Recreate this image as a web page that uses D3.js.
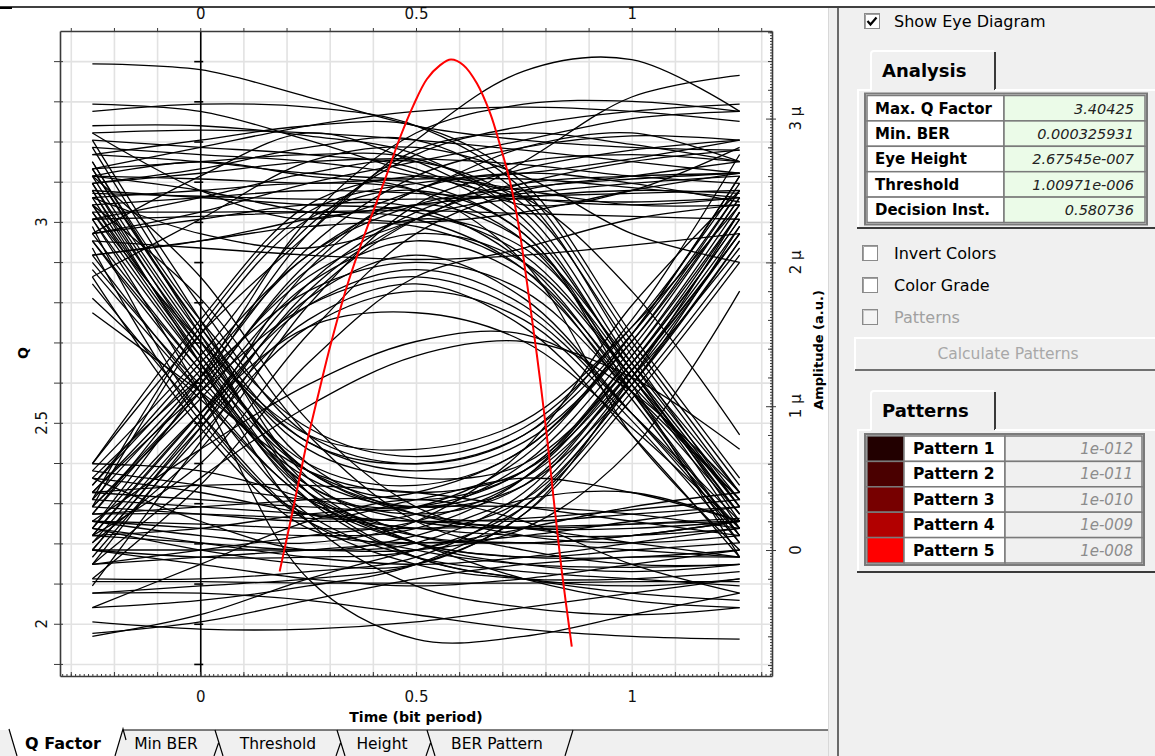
<!DOCTYPE html>
<html>
<head>
<meta charset="utf-8">
<script src="https://cdn.jsdelivr.net/npm/d3@7"></script>
<style>
  body { margin: 0; background: #fff; }
  svg { display: block; font-family: "DejaVu Sans", sans-serif; }
</style>
</head>
<body>
<svg id="chart" width="1155" height="756"></svg>
<script>
// ---- data ----
// red curve: Q factor vs decision instant (bit period)
var qTimes  = [0.184, 0.216, 0.247, 0.278, 0.301, 0.340, 0.378, 0.409, 0.433, 0.463, 0.494, 0.525, 0.556,
               0.581, 0.610, 0.641, 0.672, 0.695, 0.718, 0.738, 0.757, 0.780, 0.803, 0.819, 0.838, 0.861];
var qValues = [2.13, 2.29, 2.45, 2.59, 2.69, 2.84, 2.96, 3.05, 3.12, 3.21, 3.29, 3.355, 3.39,
               3.404, 3.39, 3.345, 3.27, 3.19, 3.10, 2.99, 2.85, 2.67, 2.47, 2.31, 2.13, 1.943];

// eye diagram traces, amplitude in micro a.u., sampled at these instants
var sampleTimes = [-0.25, 0, 0.25, 0.5, 0.75, 1, 1.25];

var trace111 = [
  [3.38, 3.34, 3.15, 2.95, 2.85, 2.80, 2.78],
  [3.10, 3.05, 2.85, 2.62, 2.45, 2.40, 2.45],
  [2.55, 2.62, 2.70, 2.72, 2.68, 2.60, 2.55],
  [2.40, 2.45, 2.50, 2.48, 2.44, 2.42, 2.45],
  [2.30, 2.32, 2.35, 2.36, 2.34, 2.32, 2.30],
  [2.75, 2.70, 2.62, 2.58, 2.62, 2.72, 2.85],
  [2.20, 2.35, 2.55, 2.70, 2.85, 3.00, 3.05],
  [2.60, 2.50, 2.35, 2.28, 2.35, 2.50, 2.62],
  [2.05, 2.15, 2.30, 2.40, 2.48, 2.55, 2.60],
  [2.90, 2.92, 2.90, 2.85, 2.78, 2.70, 2.62],
  [2.48, 2.46, 2.44, 2.44, 2.46, 2.48, 2.50],
  [2.65, 2.80, 2.95, 3.05, 3.08, 3.05, 2.98],
  [2.15, 2.10, 2.05, 2.02, 2.05, 2.12, 2.20],
  [2.20, 2.60, 2.90, 2.70, 2.40, 2.50, 2.80],
  [2.90, 2.50, 2.30, 2.50, 2.80, 2.90, 2.70],
  [2.45, 2.20, 2.10, 2.30, 2.70, 3.15, 3.30],
  [1.90, 2.30, 2.70, 2.80, 2.60, 2.20, 2.00]
];
var trace011 = [
  [0.30, 1.10, 2.00, 2.50, 2.70, 2.75, 2.70],
  [0.10, 0.95, 1.85, 2.35, 2.55, 2.60, 2.62],
  [0.55, 1.35, 2.25, 2.75, 2.95, 3.05, 3.10],
  [-0.10, 0.85, 1.80, 2.30, 2.45, 2.50, 2.48],
  [0.40, 1.20, 2.10, 2.60, 2.80, 2.88, 2.85],
  [0.60, 1.50, 2.20, 2.85, 3.33, 3.41, 3.05],
  [0.00, 0.90, 1.95, 2.50, 2.62, 2.55, 2.42],
  [0.35, 1.55, 2.35, 2.55, 2.58, 2.52, 2.45],
  [-0.25, 0.75, 1.75, 2.30, 2.55, 2.70, 2.78],
  [0.15, 1.15, 2.20, 2.78, 2.90, 2.82, 2.70],
  [0.45, 1.30, 2.05, 2.40, 2.52, 2.58, 2.62],
  [0.05, 0.70, 1.70, 2.40, 2.65, 2.78, 2.85],
  [0.25, 1.20, 2.30, 2.90, 3.10, 3.12, 3.05],
  [0.60, 1.60, 2.40, 2.60, 2.50, 2.40, 2.40],
  [0.10, 0.60, 1.50, 2.20, 2.50, 2.60, 2.70],
  [-0.20, 0.45, 1.30, 1.90, 2.10, 2.30, 2.40]
];
var trace110 = [
  [2.65, 2.70, 2.75, 2.72, 2.35, 1.30, 0.35],
  [2.45, 2.50, 2.55, 2.50, 2.15, 1.20, 0.25],
  [3.05, 3.10, 3.08, 2.95, 2.50, 1.45, 0.45],
  [2.20, 2.30, 2.40, 2.38, 2.00, 1.10, 0.10],
  [2.85, 2.80, 2.75, 2.65, 2.25, 1.25, 0.20],
  [2.55, 2.65, 2.80, 2.85, 2.45, 1.35, 0.30],
  [2.35, 2.35, 2.35, 2.30, 1.95, 1.05, 0.05],
  [2.75, 2.85, 2.95, 2.95, 2.55, 1.50, 0.50],
  [2.05, 2.15, 2.25, 2.25, 1.95, 1.15, 0.35],
  [2.50, 2.45, 2.40, 2.35, 2.05, 1.20, 0.15],
  [2.95, 2.95, 2.88, 2.75, 2.30, 1.25, 0.25],
  [2.30, 2.45, 2.62, 2.70, 2.40, 1.40, 0.40],
  [2.60, 2.58, 2.55, 2.55, 2.20, 1.15, -0.05],
  [2.60, 2.70, 2.60, 2.50, 2.00, 0.80, 0.00],
  [2.80, 2.75, 2.70, 2.60, 2.45, 1.80, 0.80]
];
var trace010 = [
  [0.30, 1.05, 1.85, 2.15, 1.90, 1.10, 0.25],
  [0.10, 0.95, 1.70, 1.95, 1.70, 0.95, 0.15],
  [0.45, 1.25, 2.05, 2.40, 2.15, 1.30, 0.40],
  [-0.05, 0.80, 1.55, 1.80, 1.60, 0.90, 0.05],
  [0.25, 1.10, 1.95, 2.30, 2.10, 1.25, 0.30],
  [0.50, 1.20, 1.80, 2.00, 1.80, 1.10, 0.35],
  [0.00, 0.85, 1.60, 1.85, 1.55, 0.80, -0.05],
  [0.35, 1.15, 1.90, 2.20, 2.00, 1.20, 0.30],
  [0.15, 0.95, 1.55, 1.65, 1.45, 0.85, 0.15],
  [-0.10, 0.50, 1.00, 1.35, 1.45, 1.20, 0.70],
  [0.20, 0.70, 1.15, 1.45, 1.50, 1.10, 0.40],
  [0.40, 1.10, 1.70, 1.90, 1.65, 0.95, 0.20],
  [0.05, 0.90, 1.75, 2.05, 1.75, 0.95, 0.10],
  [0.30, 1.50, 2.30, 2.50, 2.20, 1.10, 0.10]
];
var trace101 = [
  [2.50, 1.45, 0.75, 0.55, 0.75, 1.45, 2.45],
  [2.30, 1.30, 0.55, 0.35, 0.55, 1.35, 2.35],
  [2.70, 1.60, 0.85, 0.65, 0.85, 1.55, 2.55],
  [2.15, 1.20, 0.45, 0.25, 0.45, 1.25, 2.20],
  [2.60, 1.50, 0.70, 0.50, 0.60, 1.30, 2.30],
  [2.40, 1.35, 0.60, 0.45, 0.70, 1.50, 2.60],
  [2.85, 1.70, 0.80, 0.60, 0.80, 1.60, 2.75],
  [2.00, 1.15, 0.50, 0.30, 0.50, 1.20, 2.10],
  [2.55, 1.40, 0.55, 0.30, 0.45, 1.15, 2.15],
  [2.35, 1.45, 0.80, 0.70, 0.90, 1.55, 2.40],
  [2.20, 1.25, 0.40, 0.15, 0.35, 1.15, 2.25],
  [2.65, 1.55, 0.75, 0.60, 0.80, 1.50, 2.50],
  [1.65, 1.10, 0.55, 0.40, 0.55, 1.25, 2.20]
];
var trace100 = [
  [2.45, 1.35, 0.40, 0.05, -0.05, -0.05, 0.00],
  [2.25, 0.95, 0.20, 0.00, -0.10, -0.12, -0.10],
  [2.65, 1.55, 0.60, 0.25, 0.15, 0.15, 0.20],
  [2.05, 1.10, 0.25, -0.05, -0.15, -0.20, -0.25],
  [2.80, 1.60, 0.50, 0.10, 0.05, 0.10, 0.20],
  [2.35, 1.30, 0.35, -0.05, -0.20, -0.25, -0.20],
  [2.55, 1.45, 0.45, 0.05, -0.10, -0.15, -0.10],
  [1.95, 1.10, 0.35, 0.10, 0.05, 0.10, 0.20],
  [2.40, 1.40, 0.55, 0.25, 0.20, 0.25, 0.30],
  [2.70, 1.50, 0.40, -0.05, -0.20, -0.30, -0.35],
  [2.15, 1.25, 0.45, 0.20, 0.15, 0.18, 0.22],
  [2.50, 1.30, 0.20, -0.25, -0.40, -0.45, -0.40],
  [1.85, 0.95, 0.20, -0.10, -0.20, -0.20, -0.15],
  [1.75, 1.05, 0.35, 0.05, -0.05, 0.00, 0.05],
  [2.30, 1.10, -0.20, -0.62, -0.60, -0.45, -0.30],
  [1.90, 0.85, 0.15, 0.05, 0.10, 0.20, 0.30],
  [2.60, 1.90, 0.90, 0.30, 0.10, 0.05, 0.10],
  [2.40, 1.75, 0.80, 0.20, 0.00, -0.10, -0.10],
  [2.10, 0.90, 0.25, 0.35, 0.50, 0.40, 0.20]
];
var trace001 = [
  [0.10, 0.05, 0.00, 0.05, 0.40, 1.25, 2.25],
  [0.30, 0.25, 0.20, 0.25, 0.60, 1.40, 2.45],
  [-0.20, -0.20, -0.15, -0.05, 0.35, 1.20, 2.20],
  [0.40, 0.35, 0.30, 0.30, 0.65, 1.50, 2.60],
  [0.00, -0.05, -0.05, 0.00, 0.30, 1.10, 2.05],
  [-0.40, -0.35, -0.25, -0.10, 0.30, 1.15, 2.15],
  [0.20, 0.15, 0.10, 0.15, 0.50, 1.35, 2.40],
  [0.55, 0.45, 0.35, 0.30, 0.55, 1.30, 2.30],
  [-0.10, 0.00, 0.10, 0.20, 0.50, 1.30, 2.35],
  [0.15, 0.00, -0.10, -0.10, 0.25, 1.05, 2.00],
  [-0.30, -0.25, -0.20, -0.10, 0.25, 1.20, 2.35],
  [0.25, 0.30, 0.35, 0.40, 0.70, 1.45, 2.50],
  [0.20, 0.10, 0.05, 0.20, 0.70, 1.70, 2.50],
  [0.00, 0.00, 0.00, 0.00, 0.15, 0.70, 1.80]
];
var trace000 = [
  [0.20, 0.18, 0.15, 0.15, 0.16, 0.18, 0.20],
  [-0.22, -0.22, -0.23, -0.23, -0.23, -0.22, -0.22],
  [0.35, 0.30, 0.25, 0.20, 0.22, 0.28, 0.35],
  [-0.10, -0.05, 0.00, 0.05, 0.05, 0.00, -0.05],
  [0.50, 0.40, 0.25, 0.15, 0.10, 0.10, 0.15],
  [-0.50, -0.55, -0.55, -0.50, -0.40, -0.30, -0.20],
  [0.10, 0.15, 0.25, 0.30, 0.30, 0.25, 0.15],
  [-0.58, -0.50, -0.35, -0.20, -0.10, -0.05, -0.05],
  [0.00, -0.10, -0.20, -0.25, -0.20, -0.10, 0.00],
  [0.25, 0.25, 0.22, 0.20, 0.15, 0.05, -0.05],
  [-0.30, -0.30, -0.35, -0.45, -0.55, -0.60, -0.62],
  [0.40, 0.45, 0.45, 0.40, 0.30, 0.20, 0.10],
  [0.15, 0.05, -0.05, -0.10, -0.05, 0.05, 0.15],
  [0.50, 0.20, 0.00, 0.10, 0.35, 0.40, 0.20],
  [-0.40, -0.10, 0.20, 0.35, 0.20, -0.10, -0.30],
  [0.60, 0.55, 0.35, 0.05, -0.20, -0.35, -0.40],
  [-0.60, -0.45, -0.20, 0.00, 0.15, 0.30, 0.40]
];

// axis labels
var timeLabels = [0, 0.5, 1];
var qLabels = [2, 2.5, 3];
var ampLabels = [0, 1, 2, 3];

// side panel contents
var analysisNames  = ["Max. Q Factor", "Min. BER", "Eye Height", "Threshold", "Decision Inst."];
var analysisValues = ["3.40425", "0.000325931", "2.67545e-007", "1.00971e-006", "0.580736"];
var patternNames = ["Pattern 1", "Pattern 2", "Pattern 3", "Pattern 4", "Pattern 5"];
var patternBER   = ["1e-012", "1e-011", "1e-010", "1e-009", "1e-008"];
var tabNames = ["Q Factor", "Min BER", "Threshold", "Height", "BER Pattern"];

var patternColors = ["#220000", "#4a0000", "#770000", "#b20000", "#ff0000"];

// ---- chart ----
var svg = d3.select("#chart");
var W = 1155, H = 756;
var pL = 60, pR = 772, pT = 31, pB = 676;

svg.append("rect").attr("width", W).attr("height", H).attr("fill", "#fff");

var x  = d3.scaleLinear().domain([-0.325, 1.325]).range([pL, pR]);
var yQ = d3.scaleLinear().domain([1.87, 3.475]).range([pB, pT]);
var yA = d3.scaleLinear().domain([-0.876, 3.609]).range([pB, pT]);

var timeMinor = d3.range(-3, 14).map(function(i) { return i / 10; });
var timeTiny  = d3.range(-32, 133).map(function(i) { return i / 100; });
var qMinor    = d3.range(19, 35).map(function(i) { return i / 10; });
var ampMinor  = d3.range(-4, 19).map(function(i) { return i / 5; });
var ampTiny   = d3.range(-43, 181).map(function(i) { return i / 50; });

function isLabel(list) {
  return function(d) {
    return list.some(function(v) { return Math.abs(v - d) < 1e-9; }) ? d3.format("")(+d.toFixed(2)) : "";
  };
}

// grid
svg.append("g")
  .attr("transform", "translate(0," + pB + ")")
  .call(d3.axisBottom(x).tickValues(timeMinor).tickSize(-(pB - pT)).tickFormat(""))
  .call(function(g) { g.select(".domain").remove(); })
  .selectAll("line").attr("stroke", "#e2e2e2").attr("stroke-width", 1.6);
svg.append("g")
  .attr("transform", "translate(" + pL + ",0)")
  .call(d3.axisLeft(yQ).tickValues(qMinor).tickSize(-(pR - pL)).tickFormat(""))
  .call(function(g) { g.select(".domain").remove(); })
  .selectAll("line").attr("stroke", "#e2e2e2").attr("stroke-width", 1.6);

// eye traces
var allTraces = [].concat(trace111, trace011, trace110, trace010, trace101, trace100, trace001, trace000);
var traceLine = d3.line()
  .x(function(d, i) { return x(sampleTimes[i]); })
  .y(function(d) { return yA(d); })
  .curve(d3.curveCatmullRom.alpha(0.5));

svg.append("g").attr("class", "traces")
  .selectAll("path").data(allTraces).join("path")
  .attr("d", traceLine)
  .attr("fill", "none")
  .attr("stroke", "#000")
  .attr("stroke-width", 1.3);

// axis through t = 0
var zeroAxis = svg.append("g")
  .attr("transform", "translate(" + x(0) + ",0)")
  .call(d3.axisLeft(yQ).tickValues(qMinor).tickSize(6).tickSizeOuter(0).tickFormat(""));
zeroAxis.selectAll(".tick line").attr("x1", 3);
zeroAxis.selectAll("path, line").attr("stroke", "#000").attr("stroke-width", 1.6);

// red Q curve
var qLine = d3.line()
  .x(function(d) { return x(d[0]); })
  .y(function(d) { return yQ(d[1]); })
  .curve(d3.curveCatmullRom);
svg.append("path")
  .datum(d3.zip(qTimes, qValues))
  .attr("d", qLine)
  .attr("fill", "none")
  .attr("stroke", "#ff0000")
  .attr("stroke-width", 2);

// frame axes
var axisColor = "#3a3a3a";
var topAxis = svg.append("g")
  .attr("transform", "translate(0," + pT + ")")
  .call(d3.axisTop(x).tickValues(timeMinor).tickSize(3).tickSizeOuter(0).tickPadding(9).tickFormat(isLabel(timeLabels)));

var leftAxis = svg.append("g")
  .attr("transform", "translate(" + pL + ",0)")
  .call(d3.axisLeft(yQ).tickValues(qMinor).tickSize(6).tickSizeOuter(0).tickFormat(""));
leftAxis.selectAll(".tick line").attr("x1", 3);

var bottomAxis = svg.append("g")
  .attr("transform", "translate(0," + pB + ")")
  .call(d3.axisBottom(x).tickValues(timeMinor).tickSize(-4).tickSizeOuter(0).tickPadding(15).tickFormat(isLabel(timeLabels)));
svg.append("g")
  .attr("transform", "translate(0," + pB + ")")
  .call(d3.axisBottom(x).tickValues(timeTiny).tickSize(-2).tickFormat(""))
  .call(function(g) { g.select(".domain").remove(); });

var rightAxis = svg.append("g")
  .attr("transform", "translate(" + pR + ",0)")
  .call(d3.axisRight(yA).tickValues(ampMinor).tickSize(-4).tickSizeOuter(0).tickFormat(""));
rightAxis.selectAll(".tick line")
  .filter(function(d) { return Math.abs(d - Math.round(d)) < 1e-9; })
  .attr("x1", 4).attr("x2", -6);
svg.append("g")
  .attr("transform", "translate(" + pR + ",0)")
  .call(d3.axisRight(yA).tickValues(ampTiny).tickSize(-2).tickFormat(""))
  .call(function(g) { g.select(".domain").remove(); });

svg.selectAll(".tick line").filter(function() { return this.getAttribute("stroke") === "currentColor"; })
  .attr("stroke", axisColor);
[topAxis, leftAxis, bottomAxis, rightAxis].forEach(function(a) {
  a.select(".domain").attr("stroke", axisColor).attr("stroke-width", 1.6);
  a.selectAll("text").attr("font-family", "DejaVu Sans").attr("font-size", 15).attr("fill", "#111");
});

// rotated tick labels
svg.append("g").selectAll("text").data(qLabels).join("text")
  .attr("transform", function(d) { return "translate(47," + yQ(d) + ") rotate(-90)"; })
  .attr("text-anchor", "middle")
  .attr("font-size", 15).attr("fill", "#111")
  .text(function(d) { return d; });
svg.append("g").selectAll("text").data(ampLabels).join("text")
  .attr("transform", function(d) { return "translate(801," + yA(d) + ") rotate(-90)"; })
  .attr("text-anchor", "middle")
  .attr("font-size", 15).attr("fill", "#111")
  .text(function(d) { return d === 0 ? "0" : d + " \u03bc"; });

// axis titles
svg.append("text").attr("x", x(0.5)).attr("y", 722)
  .attr("text-anchor", "middle").attr("font-size", 14).attr("font-weight", "bold")
  .text("Time (bit period)");
svg.append("text").attr("transform", "translate(28,353) rotate(-90)")
  .attr("text-anchor", "middle").attr("font-size", 14).attr("font-weight", "bold")
  .text("Q");
svg.append("text").attr("transform", "translate(823,350) rotate(-90)")
  .attr("text-anchor", "middle").attr("font-size", 13).attr("font-weight", "bold")
  .text("Amplitude (a.u.)");

// ---- bottom tab strip ----
var tabs = svg.append("g");
tabs.append("rect").attr("x", 0).attr("y", 730).attr("width", 828).attr("height", 26).attr("fill", "#f0f0f0");
var tabEdges = [123, 215, 337, 427, 573];
tabs.append("path")
  .attr("d", "M120,730 H828")
  .attr("stroke", "#000").attr("stroke-width", 1.2).attr("fill", "none");
tabEdges.slice(1, 4).forEach(function(e) {
  tabs.append("path").attr("d", "M" + e + ",730 L" + (e + 8) + ",756 M" + (e - 1) + ",756 L" + (e + 3.5) + ",743")
    .attr("stroke", "#000").attr("stroke-width", 1.2).attr("fill", "none");
});
tabs.append("path").attr("d", "M" + (tabEdges[4] - 8) + ",756 L" + tabEdges[4] + ",730")
  .attr("stroke", "#000").attr("stroke-width", 1.2).attr("fill", "none");
// active tab
tabs.append("path").attr("d", "M9,729 L17,756 L115,756 L123,729 Z").attr("fill", "#fff");
tabs.append("path").attr("d", "M9,729 L17,756 M115,756 L123,729 L126,740")
  .attr("stroke", "#000").attr("stroke-width", 1.2).attr("fill", "none");
var tabCenters = [63, 166, 278, 382, 497];
tabs.selectAll("text.tab").data(tabNames).join("text")
  .attr("class", "tab")
  .attr("x", function(d, i) { return tabCenters[i]; })
  .attr("y", 749)
  .attr("text-anchor", "middle")
  .attr("font-size", function(d, i) { return i === 0 ? 16 : 15.5; })
  .attr("font-weight", function(d, i) { return i === 0 ? "bold" : "normal"; })
  .text(function(d) { return d; });

// ---- right panel ----
var panel = svg.append("g");
panel.append("rect").attr("x", 828).attr("y", 8).attr("width", W - 828).attr("height", H - 8).attr("fill", "#f0f0f0");
panel.append("line").attr("x1", 828.5).attr("x2", 828.5).attr("y1", 8).attr("y2", H).attr("stroke", "#d8d8d8");
panel.append("line").attr("x1", 838).attr("x2", 838).attr("y1", 8).attr("y2", H).attr("stroke", "#6a6a6a").attr("stroke-width", 2);
svg.append("line").attr("x1", 0).attr("x2", W).attr("y1", 7).attr("y2", 7).attr("stroke", "#000").attr("stroke-width", 1.5);
svg.append("line").attr("x1", 0).attr("x2", 12).attr("y1", 8).attr("y2", 8).attr("stroke", "#000").attr("stroke-width", 2);

function checkbox(bx, by, label, checked, disabled) {
  var g = panel.append("g");
  g.append("rect").attr("x", bx + 0.5).attr("y", by + 0.5).attr("width", 15).attr("height", 15)
    .attr("fill", disabled ? "#f4f4f4" : "#fff").attr("stroke", "#8a8a8a");
  g.append("path").attr("d", "M" + (bx + 1.5) + "," + (by + 15) + " V" + (by + 1.5) + " H" + (bx + 15))
    .attr("stroke", disabled ? "#c8c8c8" : "#a0a0a0").attr("fill", "none");
  if (checked) {
    g.append("path").attr("d", "M" + (bx + 3.5) + "," + (by + 8) + " L" + (bx + 6.5) + "," + (by + 11.5) + " L" + (bx + 12.5) + "," + (by + 4.5))
      .attr("stroke", "#000").attr("stroke-width", 2.2).attr("fill", "none");
  }
  g.append("text").attr("x", 894).attr("y", by + 13.5)
    .attr("font-size", 16).attr("fill", disabled ? "#a0a0a0" : "#000")
    .text(label);
}
checkbox(864, 13, "Show Eye Diagram", true, false);
checkbox(862, 245, "Invert Colors", false, false);
checkbox(862, 277, "Color Grade", false, false);
checkbox(862, 309, "Patterns", false, true);

function tabBox(ty, label, boxBottom) {
  panel.append("path").attr("d", "M871," + (ty + 40) + " V" + (ty + 4) + " Q871," + (ty + 1) + " 874," + (ty + 1) + " H994")
    .attr("stroke", "#fff").attr("stroke-width", 2).attr("fill", "none");
  panel.append("line").attr("x1", 995).attr("x2", 995).attr("y1", ty + 2).attr("y2", ty + 40)
    .attr("stroke", "#3a3a3a").attr("stroke-width", 2);
  panel.append("text").attr("x", 882).attr("y", ty + 27).attr("font-size", 18).attr("font-weight", "bold").text(label);
  panel.append("path").attr("d", "M858," + boxBottom + " V" + (ty + 40) + " H871 M995," + (ty + 40) + " H" + W)
    .attr("stroke", "#fff").attr("stroke-width", 2).attr("fill", "none");
  panel.append("line").attr("x1", 857).attr("x2", W).attr("y1", boxBottom).attr("y2", boxBottom)
    .attr("stroke", "#3a3a3a").attr("stroke-width", 2);
}

// analysis table
tabBox(50, "Analysis", 228);
var rowH = 25.4, t1y = 95.5;
var at = panel.append("g");
at.selectAll("rect.n").data(analysisNames).join("rect")
  .attr("x", 867).attr("y", function(d, i) { return t1y + i * rowH; })
  .attr("width", 137).attr("height", rowH).attr("fill", "#fff").attr("stroke", "#7a7a7a").attr("stroke-width", 1.5);
at.selectAll("rect.v").data(analysisValues).join("rect")
  .attr("x", 1004).attr("y", function(d, i) { return t1y + i * rowH; })
  .attr("width", 141).attr("height", rowH).attr("fill", "#ebfbe8").attr("stroke", "#7a7a7a").attr("stroke-width", 1.5);
at.append("rect").attr("x", 865).attr("y", t1y - 2).attr("width", 282).attr("height", rowH * 5 + 4)
  .attr("fill", "none").attr("stroke", "#7a7a7a").attr("stroke-width", 2);
at.selectAll("text.n").data(analysisNames).join("text")
  .attr("x", 875).attr("y", function(d, i) { return t1y + i * rowH + 18; })
  .attr("font-size", 15).attr("font-weight", "bold").text(function(d) { return d; });
at.selectAll("text.v").data(analysisValues).join("text")
  .attr("x", 1134).attr("y", function(d, i) { return t1y + i * rowH + 18; })
  .attr("text-anchor", "end").attr("font-size", 14.5).attr("font-style", "italic").attr("fill", "#222")
  .text(function(d) { return d; });

// calculate patterns button
panel.append("rect").attr("x", 855).attr("y", 338).attr("width", W - 855).attr("height", 32).attr("fill", "#f0f0f0");
panel.append("path").attr("d", "M855,370 V338 H" + W).attr("stroke", "#fff").attr("stroke-width", 2).attr("fill", "none");
panel.append("path").attr("d", "M855,370 H" + W).attr("stroke", "#707070").attr("stroke-width", 2).attr("fill", "none");
panel.append("text").attr("x", 1008).attr("y", 359).attr("text-anchor", "middle")
  .attr("font-size", 15.5).attr("fill", "#a8a8a8").text("Calculate Patterns");

// patterns table
tabBox(390, "Patterns", 572);
var t2y = 436;
var pt = panel.append("g");
pt.selectAll("rect.c").data(patternColors).join("rect")
  .attr("x", 867).attr("y", function(d, i) { return t2y + i * rowH; })
  .attr("width", 37).attr("height", rowH).attr("fill", function(d) { return d; })
  .attr("stroke", "#7a7a7a").attr("stroke-width", 1.5);
pt.selectAll("rect.n").data(patternNames).join("rect")
  .attr("x", 904).attr("y", function(d, i) { return t2y + i * rowH; })
  .attr("width", 101).attr("height", rowH).attr("fill", "#fff").attr("stroke", "#7a7a7a").attr("stroke-width", 1.5);
pt.selectAll("rect.v").data(patternBER).join("rect")
  .attr("x", 1005).attr("y", function(d, i) { return t2y + i * rowH; })
  .attr("width", 137).attr("height", rowH).attr("fill", "#f0f0f0").attr("stroke", "#7a7a7a").attr("stroke-width", 1.5);
pt.append("rect").attr("x", 865).attr("y", t2y - 2).attr("width", 279).attr("height", rowH * 5 + 4)
  .attr("fill", "none").attr("stroke", "#7a7a7a").attr("stroke-width", 2);
pt.selectAll("text.n").data(patternNames).join("text")
  .attr("x", 913).attr("y", function(d, i) { return t2y + i * rowH + 18; })
  .attr("font-size", 15.5).attr("font-weight", "bold").text(function(d) { return d; });
pt.selectAll("text.v").data(patternBER).join("text")
  .attr("x", 1133).attr("y", function(d, i) { return t2y + i * rowH + 18; })
  .attr("text-anchor", "end").attr("font-size", 15).attr("font-style", "italic").attr("fill", "#8c8c8c")
  .text(function(d) { return d; });
</script>
</body>
</html>
